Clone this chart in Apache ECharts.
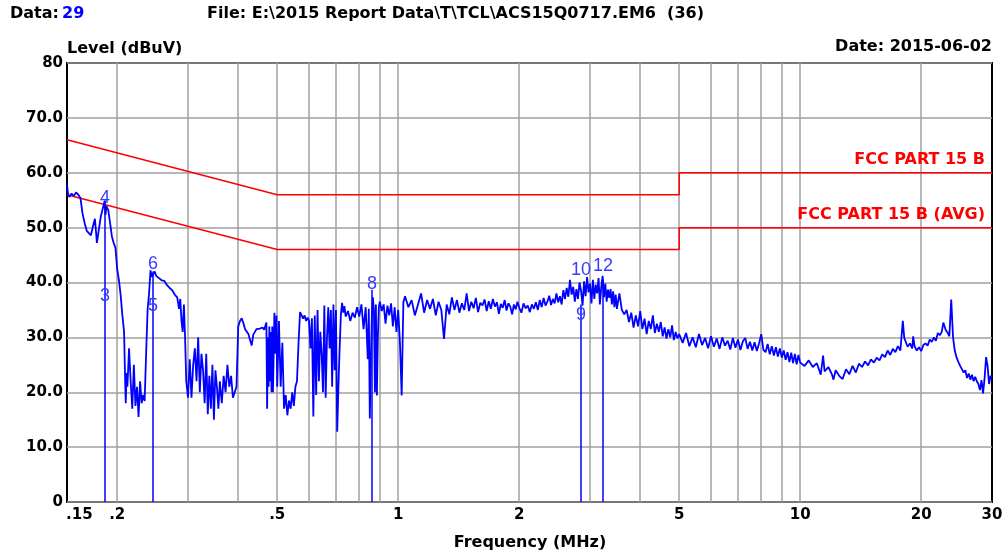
<!DOCTYPE html>
<html><head><meta charset="utf-8">
<script src="https://cdn.jsdelivr.net/npm/echarts@6/dist/echarts.min.js"></script>
<style>html,body{margin:0;padding:0;background:#fff}#c{width:1008px;height:556px}</style>
</head><body><div id="c"></div>
<script>
// ---- data ----
const traceFreq = [
 0.150,0.151,0.152,0.154,0.156,0.158,0.160,0.162,0.164,0.166,0.168,0.170,0.172,0.174,0.176,0.177,0.178,0.180,0.182,0.184,0.186,0.187,0.188,0.190,0.192,0.194,0.196,0.198,
 0.200,0.202,0.204,0.206,0.208,0.209,0.210,0.211,0.212,0.214,0.216,0.218,0.220,0.222,0.224,0.226,0.228,0.230,0.232,0.234,0.236,0.238,0.240,0.242,0.244,0.246,0.248,0.250,0.254,0.258,0.262,0.266,0.270,0.274,0.278,0.282,0.285,0.287,0.289,0.291,0.293,0.295,0.297,
 0.300,0.303,0.306,0.309,0.312,0.315,0.318,0.321,0.324,0.327,0.330,0.333,0.336,0.339,0.342,0.345,0.348,0.351,0.354,0.357,0.360,0.364,0.368,0.372,0.376,0.380,0.384,0.388,0.392,0.396,0.400,0.404,0.408,0.412,0.416,0.420,0.424,0.428,0.432,0.436,0.440,0.444,0.448,0.452,0.456,0.460,0.464,0.468,0.470,0.472,0.474,0.476,0.478,0.480,0.482,0.484,0.486,0.488,0.490,0.492,0.495,0.498,
 0.500,0.505,0.510,0.515,0.520,0.525,0.530,0.535,0.540,0.545,0.550,0.555,0.560,0.565,0.570,0.575,0.580,0.585,0.590,0.595,0.600,0.605,0.610,0.615,0.620,0.625,0.630,0.635,0.640,0.645,0.650,0.655,0.660,0.665,0.670,0.675,0.680,0.685,0.690,0.695,0.700,0.705,0.710,0.715,0.720,0.725,0.730,0.735,0.740,0.745,0.750,0.760,0.770,0.780,0.790,0.800,0.810,0.820,0.830,0.840,0.845,0.850,0.855,0.860,0.865,0.870,0.875,0.880,0.885,0.890,0.895,0.900,0.910,0.920,0.930,0.940,0.950,0.960,0.970,0.980,0.990,1.000,1.010,1.020,1.030,1.040,1.060,1.080,1.100,
 1.12,1.14,1.16,1.18,1.20,1.22,1.24,1.26,1.28,1.30,1.32,1.34,1.36,1.38,1.40,1.42,1.44,1.46,1.48,1.50,1.52,1.54,1.56,1.58,1.60,1.62,1.64,1.66,1.68,1.70,1.72,1.74,1.76,1.78,1.80,1.82,1.84,1.86,1.88,1.90,1.92,1.94,1.96,1.98,2.00,2.025,2.05,2.075,2.10,2.125,2.15,2.175,2.20,2.225,2.25,2.275,2.30,2.325,2.35,2.375,2.40,2.425,2.45,2.475,2.50,2.525,2.55,2.575,2.60,2.625,2.65,2.675,2.70,2.725,2.75,2.775,2.80,
 2.825,2.85,2.875,2.90,2.925,2.95,2.975,3.00,3.025,3.05,3.075,3.10,3.125,3.15,3.175,3.20,3.225,3.25,3.275,3.30,3.325,3.35,3.375,3.40,3.425,3.45,3.475,3.50,3.55,3.60,3.65,3.70,3.75,3.80,3.85,3.90,3.95,4.00,4.05,4.10,4.15,4.20,4.25,4.30,4.35,4.40,4.45,4.50,4.55,4.60,4.65,4.70,4.75,4.80,4.85,4.90,4.95,5.00,
 5.1,5.2,5.3,5.4,5.5,5.6,5.7,5.8,5.9,6.0,6.1,6.2,6.3,6.4,6.5,6.6,6.7,6.8,6.9,7.0,7.1,7.2,7.3,7.4,7.5,7.6,7.7,7.8,7.9,8.0,8.1,8.2,8.3,8.4,8.5,8.6,8.7,8.8,8.9,9.0,9.1,9.2,9.3,9.4,9.5,9.6,9.7,9.8,9.9,10.0,
 10.25,10.5,10.75,11.0,11.25,11.4,11.5,11.75,12.0,12.1,12.25,12.5,12.75,13.0,13.25,13.5,13.75,14.0,14.25,14.5,14.75,15.0,15.25,15.5,15.75,16.0,16.25,16.5,16.75,17.0,17.25,17.5,17.75,18.0,18.15,18.5,18.75,19.0,19.1,19.25,19.5,19.75,20.0,20.25,20.5,20.75,21.0,21.25,21.5,21.75,22.0,22.25,22.5,22.7,23.0,23.25,23.5,23.75,24.0,24.25,24.5,24.75,25.0,25.25,25.5,25.75,26.0,26.25,26.5,26.75,27.0,27.25,27.5,27.75,28.0,28.25,28.5,28.75,29.0,29.25,29.5,29.75,30.0
];
const traceLevel = [
 57.8,56.0,55.6,56.2,55.8,56.4,56.0,55.4,52.5,50.8,49.4,49.0,48.6,50.2,51.6,49.5,47.2,49.6,52.0,51.8,54.8,52.3,53.9,53.2,50.8,48.4,47.2,46.3,
 42.4,40.4,37.6,34.0,31.0,24.0,18.0,23.5,21.0,28.0,22.0,17.0,25.0,17.5,21.0,15.5,22.0,18.0,19.5,18.4,27.0,35.0,38.0,42.2,41.0,41.6,42.0,41.2,40.8,40.4,40.3,39.5,39.0,38.6,37.8,37.3,35.2,37.0,33.0,31.0,36.0,30.0,22.0,
 19.0,26.0,19.0,25.0,28.0,22.0,30.0,20.0,27.0,24.0,18.0,27.0,16.0,23.0,17.0,25.0,15.0,24.0,21.0,17.0,22.0,18.0,23.0,20.0,25.0,21.0,23.0,19.0,18.8,21.0,32.0,33.0,33.5,32.6,31.5,31.2,30.6,29.5,28.5,30.5,31.0,31.5,31.4,31.6,31.4,31.8,31.4,31.6,32.7,17.0,30.0,21.0,32.0,22.0,31.0,20.0,32.0,20.0,27.0,34.5,27.0,34.0,
 21.0,33.0,21.0,29.0,17.0,19.5,15.8,18.5,17.0,20.0,17.5,21.0,22.0,29.0,34.6,34.0,33.4,34.0,33.0,33.6,33.0,28.0,33.5,15.6,34.0,19.5,35.0,22.0,31.0,27.0,20.0,35.8,19.0,30.0,35.5,28.0,35.0,21.0,36.0,24.0,35.0,12.8,21.0,28.0,34.0,36.3,34.5,35.7,33.8,33.6,34.8,33.0,34.5,33.6,35.5,33.8,36.0,31.5,35.5,26.0,35.2,15.2,25.8,34.0,37.3,35.0,20.0,36.0,19.4,30.0,35.5,36.5,34.8,36.0,32.5,35.8,34.0,36.2,32.0,35.5,31.0,35.0,29.0,19.4,36.4,37.5,35.5,36.8,34.0,
 36.0,38.0,34.5,36.8,35.2,37.0,34.0,36.5,35.0,29.7,36.0,34.2,37.3,35.0,36.8,34.5,36.2,35.0,38.0,34.8,36.5,35.3,37.2,34.6,36.3,35.8,36.9,34.8,36.6,35.2,37.0,35.6,36.4,34.3,36.1,35.4,36.8,34.9,36.2,35.6,34.2,36.0,35.1,36.5,35.4,34.5,36.2,35.3,35.8,34.6,36.0,35.2,36.4,35.0,36.8,35.5,37.2,35.8,36.5,37.6,35.9,37.0,36.2,38.0,36.4,37.5,36.0,38.6,37.0,39.0,37.4,40.5,37.8,39.2,36.5,38.8,37.0,
 40.0,38.5,35.8,40.2,37.5,41.0,38.2,39.8,36.2,40.5,37.0,39.6,38.0,40.8,36.0,39.2,41.2,37.3,39.8,36.5,38.7,37.2,38.8,36.0,38.4,35.5,37.8,35.2,38.0,35.0,34.2,35.0,32.8,34.5,31.8,34.0,32.0,34.8,31.5,33.4,30.6,33.0,31.5,34.0,30.8,32.5,31.0,32.8,30.2,31.8,29.8,31.5,30.0,32.2,29.5,31.0,29.8,30.6,
 29.0,30.8,28.4,30.0,28.2,30.6,28.6,29.9,28.0,30.2,28.3,29.8,27.9,30.0,28.5,29.4,27.8,29.9,28.1,29.6,27.7,29.3,29.9,27.9,29.2,27.6,29.1,27.5,28.9,30.6,27.7,27.3,28.8,26.9,28.4,26.7,28.2,26.5,28.0,26.3,27.6,25.9,27.3,25.5,27.2,25.3,27.0,25.1,26.8,25.4,
 24.8,25.8,24.6,25.3,23.2,26.7,23.8,24.6,23.2,22.3,24.0,23.0,22.4,24.2,23.3,24.8,23.6,25.2,24.6,25.6,24.9,26.0,25.4,26.3,25.8,26.9,26.4,27.6,26.8,27.9,27.3,28.4,27.6,33.0,29.9,28.3,28.9,28.0,30.2,28.4,27.6,28.2,27.5,28.6,28.9,28.5,29.6,29.2,30.0,29.4,30.8,30.4,31.0,32.7,31.4,30.9,30.2,36.9,30.0,27.5,26.3,25.5,24.8,24.2,23.6,24.0,22.6,23.4,22.3,23.2,22.0,22.8,22.0,21.5,20.4,22.2,19.8,22.5,26.4,24.8,21.5,23.0,22.6
];
const qpFreq = [0.15, 0.5, 5, 5, 30];
const qpLevel = [66, 56, 56, 60, 60];
const avgFreq = [0.15, 0.5, 5, 5, 30];
const avgLevel = [56, 46, 46, 50, 50];
const gridFreqs = [0.2,0.3,0.4,0.5,0.6,0.7,0.8,0.9,1,2,3,4,5,6,7,8,9,10,20];
const xTickFreqs = [0.15,0.2,0.5,1,2,5,10,20,30];
const xTickLabels = ['.15','.2','.5','1','2','5','10','20','30'];
const markerNames = ['3','4','5','6','8','9','10','12'];
const markerFreq = [0.1865,0.1865,0.2455,0.2455,0.861,2.85,2.85,3.23];
const markerLevel = [37.5,55.4,35.8,43.4,39.8,34.0,42.3,43.0];
const markerLineFreq = [0.1865,0.2455,0.861,2.85,3.23];
const markerLineTop = [55.0,42.0,38.7,36.0,40.5];

// ---- chart ----
const FONT = 'DejaVu Sans';
const HFONT = 'bold 16px "DejaVu Sans"';
const pairs = (xs, ys) => xs.map((x, i) => [x, ys[i]]);
const chart = echarts.init(document.getElementById('c'), null, {renderer: 'canvas'});
const boldText = {color: '#000', fontFamily: FONT, fontWeight: 'bold', fontSize: 15};
const limitText = {color: '#ff0000', fontFamily: FONT, fontWeight: 'bold', fontSize: 16};

const option = {
  animation: false,
  backgroundColor: '#fff',
  grid: {left: 67, right: 16, top: 63, bottom: 54, show: true, borderColor: '#000', borderWidth: 2, backgroundColor: 'transparent'},
  xAxis: {type: 'log', logBase: 10, min: 0.15, max: 30,
    axisLine: {show: false}, axisTick: {show: false}, axisLabel: {show: false},
    splitLine: {show: false}, minorTick: {show: false}, minorSplitLine: {show: false}},
  yAxis: {type: 'value', min: 0, max: 80, interval: 10,
    axisLine: {show: false}, axisTick: {show: false},
    splitLine: {show: true, lineStyle: {color: '#a0a0a0', width: 1.5}},
    axisLabel: Object.assign({margin: 4, formatter: v => (v === 0 || v === 80) ? String(v) : v.toFixed(1)}, boldText)},
  graphic: [
    {type: 'text', x: 10, y: 14, style: {text: 'Data:', fill: '#000', font: HFONT, textAlign: 'left', textVerticalAlign: 'middle'}},
    {type: 'text', x: 62, y: 14, style: {text: '29', fill: '#0000ff', font: HFONT, textAlign: 'left', textVerticalAlign: 'middle'}},
    {type: 'text', x: 207, y: 14, style: {text: 'File: E:\\2015 Report Data\\T\\TCL\\ACS15Q0717.EM6  (36)', fill: '#000', font: HFONT, textAlign: 'left', textVerticalAlign: 'middle'}},
    {type: 'text', x: 67, y: 49, style: {text: 'Level (dBuV)', fill: '#000', font: HFONT, textAlign: 'left', textVerticalAlign: 'middle'}},
    {type: 'text', x: 992, y: 47, style: {text: 'Date: 2015-06-02', fill: '#000', font: HFONT, textAlign: 'right', textVerticalAlign: 'middle'}},
    {type: 'text', x: 530, y: 543, style: {text: 'Frequency (MHz)', fill: '#000', font: HFONT, textAlign: 'center', textVerticalAlign: 'middle'}}
  ],
  series: [
    {name: 'FCC PART 15 B', type: 'line', z: 3, data: pairs(qpFreq, qpLevel), showSymbol: false, symbol: 'none',
      lineStyle: {color: '#ff0000', width: 1.5}, silent: true,
      markLine: {silent: true, z: 1, symbol: 'none', animation: false, label: {show: false},
        lineStyle: {color: '#a0a0a0', width: 1.5, type: 'solid'},
        data: gridFreqs.map(f => ({xAxis: f}))},
      markPoint: {silent: true, symbol: 'circle', symbolSize: 0, animation: false,
        label: Object.assign({show: true, position: 'top', distance: 5, align: 'right', offset: [-7, 0], formatter: '{b}'}, limitText),
        data: [{coord: [30, 60], name: 'FCC PART 15 B'}]}},
    {name: 'FCC PART 15 B (AVG)', type: 'line', z: 3, data: pairs(avgFreq, avgLevel), showSymbol: false, symbol: 'none',
      lineStyle: {color: '#ff0000', width: 1.5}, silent: true,
      markPoint: {silent: true, symbol: 'circle', symbolSize: 0, animation: false,
        label: Object.assign({show: true, position: 'top', distance: 5, align: 'right', offset: [-7, 0], formatter: '{b}'}, limitText),
        data: [{coord: [30, 50], name: 'FCC PART 15 B (AVG)'}]}},
    {name: 'ticks', type: 'line', z: 3, data: [], silent: true,
      markPoint: {silent: true, symbol: 'circle', symbolSize: 0, animation: false,
        label: Object.assign({show: true, position: 'bottom', distance: 6, formatter: '{b}'}, boldText),
        data: xTickFreqs.map((f, i) => ({coord: [f, 0], name: xTickLabels[i],
          label: i === 0 ? {align: 'left', offset: [-1, 0]} : {}}))}},
    {name: 'Level', type: 'line', z: 4, data: pairs(traceFreq, traceLevel), showSymbol: false, symbol: 'none',
      lineStyle: {color: '#0000ff', width: 1.8}, silent: true,
      markLine: {silent: true, symbol: 'none', animation: false, label: {show: false},
        lineStyle: {color: '#0000ff', width: 1.5, type: 'solid'},
        data: markerLineFreq.map((f, i) => [{coord: [f, 0]}, {coord: [f, markerLineTop[i]]}])},
      markPoint: {silent: true, symbol: 'circle', symbolSize: 0, animation: false,
        label: {show: true, position: 'inside', formatter: '{b}', color: '#3a3aff', fontFamily: 'Liberation Sans', fontSize: 18},
        data: markerNames.map((n, i) => ({coord: [markerFreq[i], markerLevel[i]], name: n}))}}
  ]
};
chart.setOption(option);
</script></body></html>
